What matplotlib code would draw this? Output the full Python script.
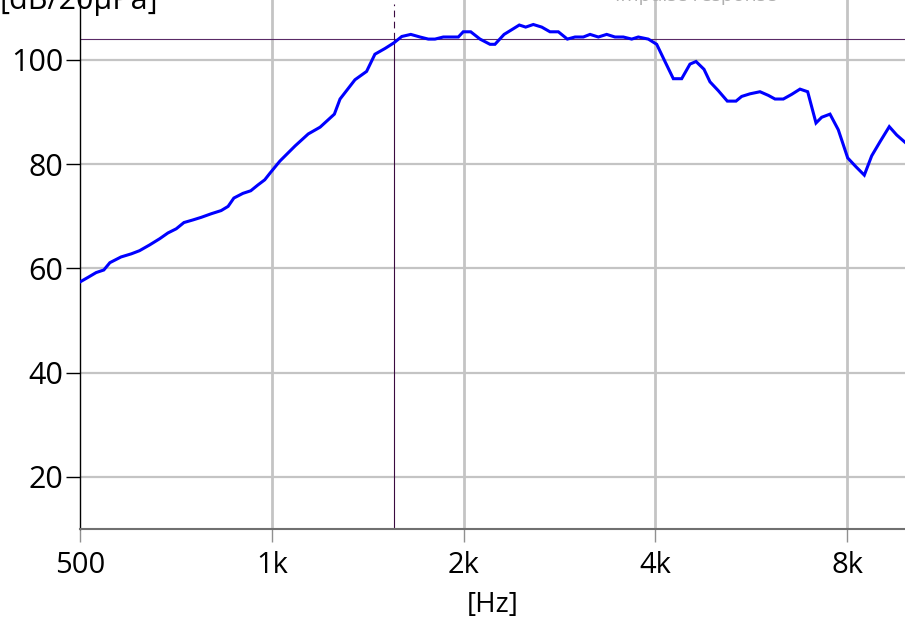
import matplotlib.pyplot as plt
from matplotlib.ticker import FixedLocator, NullLocator

# Frequency response (Hz, dB re 20 uPa)
freq_hz = [500, 515, 530, 545, 557, 580, 602, 620, 643, 667, 687, 708, 728,
           752, 775, 804, 833, 854, 872, 901, 927, 951, 975, 994, 1030, 1088,
           1141, 1191, 1254, 1280, 1351, 1409, 1452, 1506, 1556, 1600, 1653,
           1709, 1761, 1804, 1859, 1963, 1998, 2053, 2123, 2201, 2241, 2316,
           2381, 2447, 2504, 2574, 2654, 2734, 2818, 2911, 2993, 3084, 3160,
           3256, 3356, 3458, 3564, 3674, 3762, 3901, 4021, 4143, 4270, 4401,
           4535, 4635, 4771, 4875, 5024, 5190, 5356, 5467, 5634, 5841, 6020,
           6167, 6355, 6551, 6750, 6940, 7152, 7301, 7523, 7752, 8020, 8264,
           8516, 8747, 9014, 9321, 9574, 9866]
level_db = [57.4, 58.3, 59.2, 59.7, 61.1, 62.2, 62.8, 63.4, 64.5, 65.7, 66.8,
            67.6, 68.8, 69.3, 69.8, 70.5, 71.1, 71.9, 73.5, 74.4, 74.9, 76.0,
            77.0, 78.3, 80.6, 83.5, 85.8, 87.1, 89.6, 92.5, 96.2, 97.8, 101.1,
            102.2, 103.3, 104.5, 104.9, 104.4, 104.0, 104.0, 104.4, 104.4,
            105.4, 105.4, 104.0, 103.0, 103.0, 104.9, 105.8, 106.7, 106.3,
            106.8, 106.3, 105.4, 105.4, 104.0, 104.4, 104.4, 104.9, 104.4,
            104.9, 104.4, 104.4, 104.0, 104.4, 104.0, 103.0, 99.7, 96.4, 96.4,
            99.2, 99.7, 98.2, 95.8, 94.1, 92.1, 92.1, 93.0, 93.5, 93.9, 93.2,
            92.5, 92.5, 93.4, 94.4, 93.9, 87.9, 89.0, 89.6, 86.6, 81.2, 79.5,
            77.9, 81.6, 84.3, 87.2, 85.6, 84.2]

x_ticks = [500, 1000, 2000, 4000, 8000]
x_labels = ["500", "1k", "2k", "4k", "8k"]
y_ticks = [20, 40, 60, 80, 100]

cursor_freq = 1556
cursor_level = 104.0

plt.rcParams['font.family'] = ['Open Sans', 'DejaVu Sans']

fig = plt.figure(figsize=(9.05, 6.21), dpi=100)
ax = fig.add_axes([80 / 905, 92 / 621, 825 / 905, 529 / 621])

ax.set_xscale('log')
ax.set_xlim(500, 9866)
ax.set_ylim(10, 111.5)

# grid
for f in x_ticks[1:]:
    ax.axvline(f, color='#c4c4c4', lw=2.0, zorder=1)
for v in y_ticks:
    ax.axhline(v, color='#c4c4c4', lw=1.6, zorder=1)

# cursor lines
ax.axhline(cursor_level, color='#5a2a66', lw=0.8, zorder=2)
ax.plot([cursor_freq, cursor_freq], [10, cursor_level], color='#3a0a40',
        lw=0.8, zorder=2)
ax.plot([cursor_freq, cursor_freq], [cursor_level, 110.8], color='#3a0a40',
        lw=0.8, ls=(0, (6, 4)), zorder=2)

ax.plot(freq_hz, level_db, color='#0000ff', lw=2.2, zorder=3,
        solid_joinstyle='miter')

ax.xaxis.set_major_locator(FixedLocator(x_ticks))
ax.xaxis.set_minor_locator(NullLocator())
ax.set_xticklabels(x_labels)
ax.set_yticks(y_ticks)

ax.tick_params(axis='x', length=9, width=1.0, color='#909090', pad=7,
               labelsize=21)
ax.tick_params(axis='y', length=10, width=1.0, color='black', pad=2,
               labelsize=22)

ax.spines['top'].set_visible(False)
ax.spines['right'].set_visible(False)
ax.spines['left'].set_color('black')
ax.spines['left'].set_linewidth(1.0)
ax.spines['bottom'].set_color('#707070')
ax.spines['bottom'].set_linewidth(1.5)

ax.set_xlabel("[Hz]", fontsize=20, labelpad=8)

fig.text(0.0, 1 - 16 / 621, "[dB/20µPa]", fontsize=22, ha='left',
         va='bottom')
fig.text(615 / 905, 1 - 5 / 621, "Impulse response", fontsize=14,
         color='#b0b0b0', ha='left', va='bottom')

fig.savefig('out.png', dpi=100)
